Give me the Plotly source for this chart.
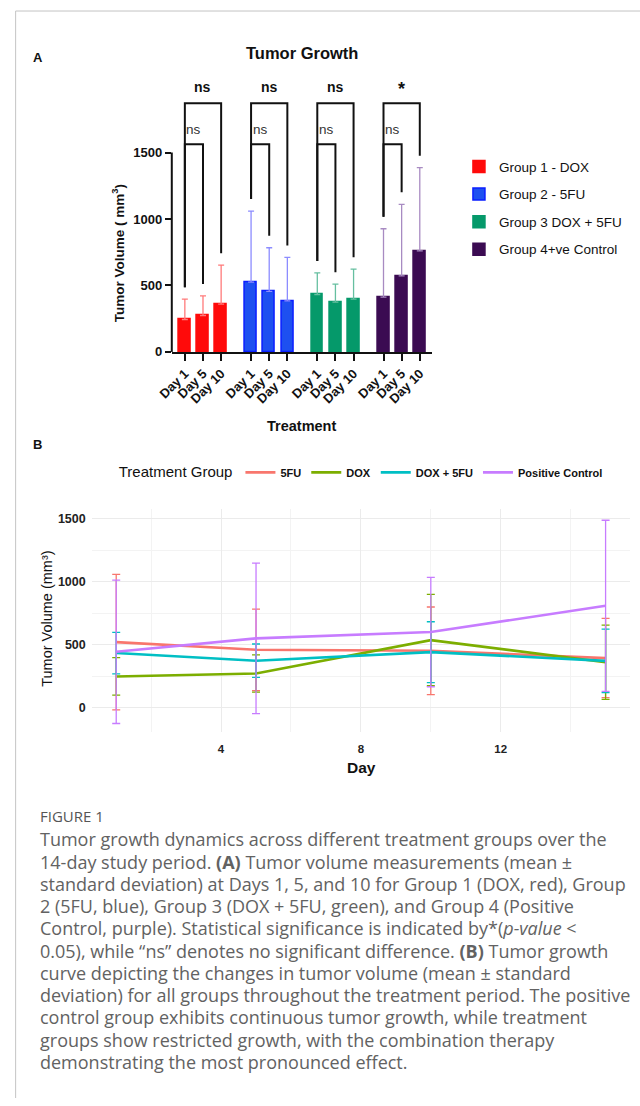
import plotly.graph_objects as go

# ---------------- Panel A data (bar chart, mean + SD) ----------------
groups_a = ["Group 1 - DOX", "Group 2 - 5FU", "Group 3 DOX + 5FU", "Group 4+ve Control"]
days_a = ["Day 1", "Day 5", "Day 10"]
mean_g1 = [244, 274, 359]
sd_g1 = [153, 148, 294]
mean_g2 = [525, 455, 384]
sd_g2 = [535, 329, 327]
mean_g3 = [432, 374, 397]
sd_g3 = [163, 136, 226]
mean_g4 = [412, 573, 761]
sd_g4 = [515, 538, 626]
sig_inner = ["ns", "ns", "ns", "ns"]   # Day 1 vs Day 5
sig_outer = ["ns", "ns", "ns", "*"]    # Day 1 vs Day 10

# ---------------- Panel B data (growth curves, mean ± SD) -------------
days_b = [1, 5, 10, 15]
series_b = ["5FU", "DOX", "DOX + 5FU", "Positive Control"]
mean_5fu = [520, 459, 451, 393]
sd_5fu = [538, 324, 348, 315]
mean_dox = [247, 270, 536, 360]
sd_dox = [149, 148, 363, 295]
mean_combo = [433, 372, 440, 371]
sd_combo = [165, 133, 242, 252]
mean_pos = [443, 550, 600, 809]
sd_pos = [570, 598, 435, 680]

# ---------------- styles ----------------
W, H = 640, 1106
bar_fill = ["#FF0A0A", "#1E50F0", "#05996A", "#3B0B52"]
bar_edge = ["#FF0A0A", "#0A1EFF", "#05996A", "#3B0B52"]
err_col = ["#FF7A7A", "#8C8CFF", "#66BFA0", "#A88BC2"]
line_col = ["#F8766D", "#7CAE00", "#00BFC4", "#C77CFF"]
FA = "Liberation Sans, Arial, sans-serif"
FC = "Open Sans, Noto Sans, sans-serif"

# page-pixel -> paper fraction (with correction for the observed capture offset/scale)
SX, OX, SY, OY = 0.976, 13.3, 0.991, 2.0

def px_x(p):
    return max(0.0, (p - OX) / SX) / W

def px_y(p):
    return 1 - max(0.0, (p - OY) / SY) / H

fig = go.Figure()

means_a = [mean_g1, mean_g2, mean_g3, mean_g4]
sds_a = [sd_g1, sd_g2, sd_g3, sd_g4]
group_step = 3.65
pos_a = [[g * group_step + d for d in range(len(days_a))] for g in range(len(groups_a))]

for g, name in enumerate(groups_a):
    fig.add_trace(go.Bar(
        x=pos_a[g], y=means_a[g], name=name, width=0.66,
        marker=dict(color=bar_fill[g], line=dict(color=bar_edge[g], width=1.5)),
        error_y=dict(type="data", symmetric=False, array=sds_a[g],
                     arrayminus=[0] * len(days_a), color=err_col[g],
                     thickness=1.3, width=3),
        xaxis="x", yaxis="y", legend="legend", legendgroup=name,
    ))

# significance brackets
gap = 90
inner_top, outer_top = 1563, 1872
bx, by = [], []
for g in range(len(groups_a)):
    p = pos_a[g]
    legs = [m + s + gap for m, s in zip(means_a[g], sds_a[g])]
    bx += [p[0], p[0], p[1], p[1], None, p[0], p[0], p[2], p[2], None]
    by += [legs[0], inner_top, inner_top, legs[1], None,
           legs[0], outer_top, outer_top, legs[2], None]
fig.add_trace(go.Scatter(x=bx, y=by, mode="lines", line=dict(color="#111", width=2),
                         showlegend=False, hoverinfo="skip", xaxis="x", yaxis="y"))

annotations = []
for g in range(len(groups_a)):
    p = pos_a[g]
    annotations.append(dict(x=(p[0] + p[1]) / 2, y=1675, xref="x", yref="y",
                            xanchor="center", yanchor="middle",
                            text=sig_inner[g], showarrow=False,
                            font=dict(family=FA, size=13.5, color="#333")))
    t = sig_outer[g]
    annotations.append(dict(x=(p[0] + p[2]) / 2, y=1995 if t != "*" else 1975,
                            xref="x", yref="y", xanchor="center", yanchor="middle",
                            text="<b>%s</b>" % t, showarrow=False,
                            font=dict(family=FA, size=14 if t != "*" else 18, color="#111")))

# y-axis line of panel A (only up to 1500, Prism style)
shapes = [dict(type="line", xref="x domain", yref="y", x0=0, x1=0, y0=0, y1=1500,
               line=dict(color="#111", width=2))]

# ---------------- Panel B traces ----------------
means_b = [mean_5fu, mean_dox, mean_combo, mean_pos]
sds_b = [sd_5fu, sd_dox, sd_combo, sd_pos]
for i, name in enumerate(series_b):
    fig.add_trace(go.Scatter(
        x=days_b, y=means_b[i], name=name, mode="lines",
        line=dict(color=line_col[i], width=2.6),
        error_y=dict(type="data", array=sds_b[i], color=line_col[i], thickness=1.3, width=4),
        xaxis="x2", yaxis="y2", legend="legend2",
    ))

def ann(x, y, text, size, family=FA, color="#111", angle=0, xanchor="center"):
    return dict(x=px_x(x), y=px_y(y), xref="paper", yref="paper", text=text,
                xanchor=xanchor, yanchor="middle", textangle=angle, showarrow=False,
                font=dict(family=family, size=size, color=color))

# ---------------- text annotations ----------------
annotations += [
    ann(300, 55, "<b>Tumor Growth</b>", 16.5),
    ann(36, 59, "<b>A</b>", 13),
    ann(36, 446, "<b>B</b>", 13),
    ann(300, 427, "<b>Treatment</b>", 14.5),
    ann(117, 255, "<b>Tumor Volume ( mm<sup>3</sup>)</b>", 13.5, angle=-90),
    ann(360, 768, "<b>Day</b>", 15.5),
    ann(45, 620, "Tumor Volume (mm³)", 14.5, angle=-90),
]

caption_lines = [
    "Tumor growth dynamics across different treatment groups over the",
    "14-day study period. <b>(A)</b> Tumor volume measurements (mean ±",
    "standard deviation) at Days 1, 5, and 10 for Group 1 (DOX, red), Group",
    "2 (5FU, blue), Group 3 (DOX + 5FU, green), and Group 4 (Positive",
    "Control, purple). Statistical significance is indicated by*(<i>p-value</i> &lt;",
    "0.05), while “ns” denotes no significant difference. <b>(B)</b> Tumor growth",
    "curve depicting the changes in tumor volume (mean ± standard",
    "deviation) for all groups throughout the treatment period. The positive",
    "control group exhibits continuous tumor growth, while treatment",
    "groups show restricted growth, with the combination therapy",
    "demonstrating the most pronounced effect.",
]
annotations.append(ann(36, 817, "FIGURE 1", 15, family=FC, color="#555", xanchor="left"))
for k, line in enumerate(caption_lines):
    annotations.append(ann(36, 840 + k * 22.2, line, 18, family=FC, color="#626262",
                           xanchor="left"))

# frame lines
shapes += [
    dict(type="line", xref="paper", yref="paper", x0=0.001, x1=0.001, y0=px_y(13), y1=0,
         line=dict(color="#c4c4c4", width=1)),
    dict(type="line", xref="paper", yref="paper", x0=0.001, x1=1, y0=px_y(13), y1=px_y(13),
         line=dict(color="#c4c4c4", width=1)),
]

tickpos = [p for grp in pos_a for p in grp]
ticktext = ["<b>%s</b>" % d for _ in groups_a for d in days_a]

fig.update_layout(
    width=W, height=H, margin=dict(l=0, r=0, t=0, b=0),
    paper_bgcolor="white", plot_bgcolor="white", bargap=0,
    xaxis=dict(domain=[px_x(170), px_x(430)], range=[-0.72, 13.62], anchor="y",
               tickvals=tickpos, ticktext=ticktext, tickangle=-45,
               ticks="outside", ticklen=7, tickwidth=2, tickcolor="#111",
               showline=True, linewidth=2, linecolor="#111", showgrid=False, zeroline=False,
               tickfont=dict(family=FA, size=13, color="#111")),
    yaxis=dict(domain=[px_y(353.3), px_y(48.2)], range=[0, 2300], anchor="x",
               tickvals=[0, 500, 1000, 1500], ticktext=["<b>0</b>", "<b>500</b>", "<b>1000</b>", "<b>1500</b>"],
               ticks="outside", ticklen=6, tickwidth=2, tickcolor="#111",
               showline=False, showgrid=False, zeroline=False,
               tickfont=dict(family=FA, size=13, color="#111")),
    xaxis2=dict(domain=[px_x(90), px_x(628)], range=[0.3, 15.7], anchor="y2",
                tick0=0, dtick=4, showgrid=True, gridcolor="#EBEBEB", gridwidth=1.2,
                minor=dict(dtick=2, showgrid=True, gridcolor="#F3F3F3", gridwidth=1),
                zeroline=False, showline=False, ticks="", ticklabelstandoff=8,
                tickfont=dict(family=FA, size=11.5, color="#222"), tickprefix="<b>", ticksuffix="</b>"),
    yaxis2=dict(domain=[px_y(733), px_y(510)], range=[-197, 1579], anchor="x2",
                tick0=0, dtick=500, showgrid=True, gridcolor="#EBEBEB", gridwidth=1.2,
                minor=dict(dtick=250, showgrid=True, gridcolor="#F3F3F3", gridwidth=1),
                zeroline=False, showline=False, ticks="", ticklabelstandoff=5,
                tickfont=dict(family=FA, size=12.5, color="#222"), tickprefix="<b>", ticksuffix="</b>"),
    legend=dict(x=px_x(457), y=px_y(153), xanchor="left", yanchor="top",
                font=dict(family=FA, size=13.5, color="#111"), tracegroupgap=7,
                bgcolor="rgba(0,0,0,0)"),
    legend2=dict(orientation="h", x=px_x(115), y=px_y(474), xanchor="left", yanchor="middle",
                 title=dict(text="Treatment Group",
                            font=dict(family=FA, size=15, color="#111", weight="normal"),
                            side="left"),
                 font=dict(family=FA, size=11, color="#111", weight="bold"),
                 bgcolor="rgba(0,0,0,0)"),
    annotations=annotations, shapes=shapes, showlegend=True,
)

fig.write_html("out.html", config={"displayModeBar": False},
               post_script="document.body.style.margin='0';document.body.style.overflow='hidden';")
